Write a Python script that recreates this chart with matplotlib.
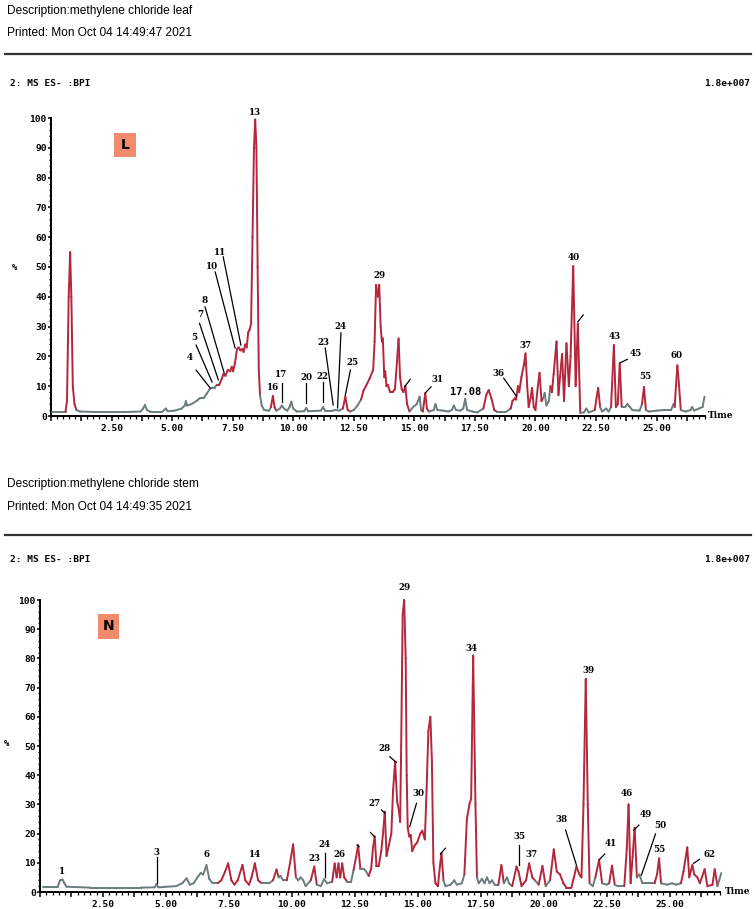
import matplotlib
matplotlib.use("Agg")
import matplotlib.pyplot as plt
import numpy as np
from matplotlib.collections import LineCollection
from matplotlib.ticker import MultipleLocator, FuncFormatter
from matplotlib.patches import Rectangle

# ---------------- data: leaf (L) chromatogram, time (min) / relative intensity (%) -------------
leaf_time = [0.03, 0.60, 0.66, 0.73, 0.79, 0.84, 0.90, 0.97, 1.05, 1.20, 2.00, 3.00, 3.70, 3.80, 3.88, 3.96,
             4.10, 4.60, 4.74, 4.82, 5.10, 5.40, 5.52, 5.57, 5.62, 5.80, 6.00, 6.15, 6.30, 6.43, 6.55, 6.65,
             6.75, 6.85, 6.95, 7.05, 7.12, 7.20, 7.30, 7.40, 7.46, 7.52, 7.60, 7.68, 7.75, 7.82, 7.90, 7.95,
             8.02, 8.08, 8.14, 8.20, 8.26, 8.32, 8.38, 8.43, 8.48, 8.53, 8.58, 8.63, 8.70, 8.80, 9.00, 9.08,
             9.16, 9.23, 9.30, 9.45, 9.53, 9.62, 9.75, 9.85, 9.92, 10.00, 10.15, 10.45, 10.54, 10.62, 11.15,
             11.23, 11.32, 11.60, 11.75, 11.90, 12.05, 12.15, 12.25, 12.35, 12.50, 12.65, 12.80, 12.90, 13.00,
             13.15, 13.30, 13.36, 13.42, 13.49, 13.55, 13.61, 13.66, 13.70, 13.76, 13.80, 13.85, 13.90, 14.00,
             14.10, 14.20, 14.30, 14.35, 14.41, 14.48, 14.55, 14.63, 14.70, 14.80, 14.95, 15.10, 15.22, 15.28,
             15.35, 15.45, 15.52, 15.60, 15.80, 15.87, 15.95, 16.20, 16.40, 16.55, 16.63, 16.72, 16.90, 17.02,
             17.10, 17.18, 17.40, 17.60, 17.85, 17.97, 18.07, 18.18, 18.30, 18.40, 18.80, 18.98, 19.05, 19.15,
             19.20, 19.28, 19.33, 19.42, 19.52, 19.59, 19.66, 19.72, 19.80, 19.86, 19.93, 20.00, 20.10, 20.17,
             20.25, 20.32, 20.38, 20.45, 20.55, 20.62, 20.68, 20.75, 20.87, 20.95, 21.10, 21.18, 21.28, 21.38,
             21.45, 21.56, 21.66, 21.75, 21.85, 22.00, 22.10, 22.20, 22.45, 22.52, 22.59, 22.67, 22.75, 22.92,
             23.02, 23.12, 23.24, 23.32, 23.40, 23.48, 23.56, 23.70, 23.80, 23.90, 24.00, 24.30, 24.40, 24.48,
             24.56, 24.70, 25.00, 25.30, 25.60, 25.70, 25.75, 25.80, 25.86, 25.93, 26.00, 26.20, 26.40, 26.47,
             26.55, 26.75, 26.90, 26.98]
leaf_intensity = [1.5, 1.5, 5, 40, 55, 40, 10, 4, 2, 1.5, 1.3, 1.3, 1.5, 2.5, 3.7, 2,
                  1.5, 1.5, 2.5, 1.6, 1.8, 2.5, 3.5, 5, 3.5, 4, 5, 6, 6, 7.5, 9, 9.5,
                  9.5, 10.5, 10.5, 12.5, 14, 13.5, 15.5, 15, 16.5, 15, 18, 22.5, 23, 22, 22.5, 21.5,
                  24, 23, 28, 29, 31, 60, 90, 99.5, 90, 50, 15, 7, 3.5, 2, 1.8, 3,
                  6.7, 3, 1.8, 2.5, 3.5, 2.5, 1.8, 3, 4.8, 2.5, 1.5, 1.6, 2.7, 1.6, 1.8,
                  3, 1.8, 1.8, 2, 1.8, 2.5, 6.5, 2, 1.5, 2, 3.5, 5.5, 8.5, 10,
                  12.5, 15.5, 25, 44, 40, 44, 30, 25, 26, 13, 15, 10, 10.5, 8,
                  8, 9, 20, 26, 13, 9, 8, 10, 4, 1.5, 3, 4, 6.5, 2,
                  1.5, 7.6, 2.5, 1.5, 2, 4, 2, 1.8, 1.5, 2, 3.5, 2, 1.8, 2.5,
                  5.7, 2, 1.5, 1.2, 2.5, 7, 8.7, 6, 2, 1.5, 1.5, 2.5, 5, 6,
                  5.5, 10, 8, 13, 17, 21, 10, 3, 6, 9.4, 3, 2, 10, 14.5,
                  5, 6, 7.7, 3.5, 5, 10, 8, 14, 25, 7, 20.8, 5, 24.4, 10,
                  20, 50.3, 10, 31, 1, 1.2, 2.5, 1.2, 2, 6, 9.4, 3, 1.5, 2.5,
                  1.5, 3, 23.8, 3, 4, 17.8, 3, 3, 4, 3, 2, 1.8, 4, 9.7,
                  2, 1.5, 1.8, 2, 2, 4, 3, 10, 17, 10, 2, 1.5, 2, 3,
                  1.8, 2.5, 3, 6.5]
leaf_red_ranges = [(0.6, 1.1), (6.9, 8.63), (9.05, 9.28), (12.05, 12.3), (12.85, 14.75), (15.35, 15.58),
                   (17.8, 18.35), (18.95, 20.3), (20.6, 21.85), (22.45, 22.7), (23.1, 23.6), (24.38, 24.58),
                   (25.76, 25.97)]
leaf_labels = ["13", "4", "5", "7", "8", "10", "11", "16", "17", "20", "22", "23", "24", "25", "29", "31",
               "36", "37", "40", "43", "45", "55", "60"]
leaf_label_t = [8.43, 5.74, 5.91, 6.16, 6.32, 6.65, 6.98, 9.16, 9.50, 10.54, 11.19, 11.23, 11.94, 12.43, 13.57,
                15.96, 18.46, 19.59, 21.58, 23.26, 24.13, 24.52, 25.83]
leaf_label_i = [102, 19.5, 26.2, 33.9, 38.9, 50.3, 55, 9.4, 13.8, 12.8, 13.1, 24.5, 29.9, 17.8, 47,
                12.4, 14.3, 23.6, 53.3, 26.6, 21, 13.2, 20.2]
leaf_leaders = [((5.99, 15.4), (6.57, 9.4)), ((5.99, 23.8), (6.65, 11.4)), ((6.13, 31.1), (6.91, 12.1)),
                ((6.36, 36.6), (7.15, 14.4)), ((6.78, 48.3), (7.60, 22.8)), ((7.11, 53.4), (7.84, 23.8)),
                ((9.55, 11.1), (9.55, 4.7)), ((10.54, 11.1), (10.54, 4.4)), ((11.23, 11.4), (11.23, 4.7)),
                ((11.32, 22.8), (11.65, 3.7)), ((11.97, 27.9), (11.83, 2.7)), ((12.36, 15.4), (12.15, 7.0)),
                ((14.60, 9.8), (14.83, 12.3)), ((15.45, 7.7), (15.69, 9.8)), ((18.69, 12.7), (19.21, 6.7)),
                ((21.75, 31.6), (21.97, 33.9)), ((23.51, 17.9), (23.79, 19.0))]
leaf_rt_note = ("17.08", 17.11, 8.0)

# ---------------- data: stem (N) chromatogram -------------
stem_time = [0.13, 0.70, 0.80, 0.89, 0.97, 1.05, 2.00, 3.00, 4.00, 4.55, 4.63, 4.70, 5.00, 5.40, 5.65, 5.82,
             5.95, 6.10, 6.25, 6.38, 6.48, 6.61, 6.72, 6.85, 7.05, 7.20, 7.35, 7.47, 7.60, 7.72, 7.85, 8.04,
             8.15, 8.30, 8.40, 8.53, 8.66, 8.80, 9.10, 9.25, 9.39, 9.48, 9.55, 9.65, 9.80, 9.93, 10.05, 10.16,
             10.25, 10.35, 10.45, 10.55, 10.75, 10.89, 10.99, 11.15, 11.28, 11.40, 11.60, 11.70, 11.78, 11.85,
             11.92, 12.00, 12.08, 12.20, 12.35, 12.45, 12.55, 12.63, 12.72, 12.85, 12.95, 13.05, 13.15, 13.22,
             13.29, 13.36, 13.45, 13.55, 13.62, 13.69, 13.76, 13.85, 13.95, 14.02, 14.10, 14.18, 14.25, 14.30,
             14.34, 14.40, 14.46, 14.52, 14.56, 14.60, 14.66, 14.72, 14.78, 14.88, 14.98, 15.10, 15.18, 15.28,
             15.35, 15.42, 15.50, 15.56, 15.62, 15.70, 15.80, 15.88, 15.94, 16.02, 16.10, 16.30, 16.45, 16.55,
             16.75, 16.85, 16.95, 17.05, 17.12, 17.20, 17.29, 17.35, 17.42, 17.55, 17.65, 17.75, 17.85, 17.95,
             18.05, 18.20, 18.32, 18.42, 18.55, 18.62, 18.75, 18.92, 19.00, 19.12, 19.30, 19.42, 19.55, 19.65,
             19.80, 19.95, 20.08, 20.25, 20.40, 20.52, 20.65, 20.78, 20.90, 21.10, 21.20, 21.30, 21.42, 21.50,
             21.58, 21.67, 21.75, 21.82, 21.95, 22.05, 22.20, 22.32, 22.50, 22.60, 22.71, 22.82, 22.95, 23.20,
             23.30, 23.37, 23.45, 23.53, 23.61, 23.70, 23.80, 23.92, 24.20, 24.40, 24.50, 24.58, 24.66, 24.90,
             25.10, 25.25, 25.45, 25.55, 25.70, 25.78, 25.90, 25.98, 26.10, 26.20, 26.39, 26.50, 26.70, 26.79,
             26.90, 27.05]
stem_intensity = [1.8, 1.8, 4, 4.3, 3, 1.8, 1.5, 1.5, 1.5, 1.6, 2.7, 1.6, 1.8, 2, 3, 4.7,
                  2.5, 3, 5, 6.5, 6, 9.2, 4.5, 3, 3, 4, 7, 9.8, 4, 2.5, 4, 9.3,
                  4, 2.5, 5, 9.8, 4, 3, 3, 4, 7.7, 5, 5.5, 4, 4, 10, 16.3, 5,
                  4, 5, 4, 2, 4, 8.7, 2.5, 2, 4.4, 3, 3.5, 9.8, 5, 9.8,
                  5, 9.8, 5, 3.5, 3.5, 7.5, 12, 16, 8, 8, 7, 5.5, 8, 15,
                  19, 9, 9, 14, 20, 27.5, 12.3, 16, 20, 35, 44.6, 31, 28, 24,
                  50, 95, 100, 80, 40, 22, 19, 19.5, 14, 16, 17, 20, 21, 18,
                  35, 55, 60, 45, 10, 3, 2, 9, 13.2, 4, 2, 2.5, 4, 2.5,
                  3, 6, 25, 30, 32, 81, 30, 5, 3, 4.5, 3, 5, 3, 4,
                  2.5, 2.5, 9.2, 3, 5, 3, 2, 8.7, 7, 2, 4, 9.8, 5, 4,
                  2.5, 8.9, 2, 4, 14.6, 7, 6, 3, 1.5, 1.5, 5, 8.7, 6, 5,
                  30, 73, 30, 3, 2, 5, 11, 3, 2.5, 3, 9, 2.5, 2, 2,
                  15, 30, 3, 12, 22, 5, 6, 3, 3, 3, 6, 11.5, 3, 2.5,
                  3, 2.5, 3, 7, 15.3, 5, 9.2, 6, 5, 3, 7.8, 2, 2.5, 7.8,
                  2, 6.5]
stem_red_ranges = [(7.1, 8.75), (9.3, 9.45), (9.85, 10.15), (10.7, 11.05), (11.6, 12.15), (12.45, 12.75),
                   (13.1, 16.05), (16.85, 17.33), (18.2, 18.45), (18.7, 19.6), (19.85, 20.05), (20.25, 21.82),
                   (22.05, 22.3), (22.6, 22.85), (23.2, 23.72), (24.45, 24.7), (25.5, 26.92)]
stem_labels = ["1", "3", "6", "14", "23", "24", "26", "27", "28", "29", "30", "34", "35", "37", "38", "39",
               "41", "46", "49", "50", "55", "62"]
stem_label_t = [0.88, 4.63, 6.62, 8.53, 10.88, 11.31, 11.90, 13.29, 13.69, 14.48, 15.01, 17.13, 19.05, 19.51,
                20.70, 21.76, 22.65, 23.30, 24.04, 24.64, 24.60, 26.59]
stem_label_i = [7, 13.6, 12.7, 12.7, 11.5, 16.1, 12.7, 30.4, 49.2, 104.3, 33.8, 83.5, 18.9, 12.7,
                24.7, 76, 16.7, 33.6, 26.6, 22.7, 14.4, 12.7]
stem_leaders = [((4.64, 12.0), (4.64, 3.1)), ((11.31, 13.3), (11.31, 5.2)), ((13.56, 28.1), (13.69, 27.0)),
                ((13.12, 20.4), (13.29, 18.9)), ((12.59, 16.1), (12.67, 15.5)), ((13.89, 46.3), (14.15, 44.4)),
                ((14.95, 30.4), (14.68, 22.4)), ((15.90, 13.0), (16.10, 15.0)), ((19.01, 16.1), (19.01, 9.2)),
                ((20.87, 21.2), (21.30, 9.2)), ((22.20, 11.0), (22.42, 13.0)), ((23.58, 21.2), (23.78, 22.9)),
                ((24.44, 19.9), (23.88, 5.8)), ((25.95, 9.8), (26.19, 11.2))]

# ---------------- figure -------------
W, H = 756, 909
RED = "#b3263b"
GRAY = "#6a7c7c"
SALMON = "#f28a6c"
MONO = ["DejaVu Sans Mono"]
SERIF = ["DejaVu Serif"]
NARROW = ["Liberation Sans Narrow", "Liberation Sans", "DejaVu Sans"]

fig = plt.figure(figsize=(W / 100, H / 100), dpi=100)
fig.patch.set_facecolor("white")


def fy(py):
    return 1 - py / H


def draw_trace(ax, t, y, red_ranges):
    pts = np.column_stack([t, y])
    segs = np.stack([pts[:-1], pts[1:]], axis=1)
    mids = (pts[:-1, 0] + pts[1:, 0]) / 2
    cols = []
    for m in mids:
        red = any(a <= m <= b for a, b in red_ranges)
        cols.append(RED if red else GRAY)
    lc = LineCollection(segs, colors=cols, linewidths=1.4, capstyle="round", joinstyle="round", zorder=3)
    lc.set_clip_on(False)
    ax.add_collection(lc)


def style_axes(ax, xpad):
    ax.set_xlim(0, 27)
    ax.set_ylim(0, 100)
    for s in ["top", "right"]:
        ax.spines[s].set_visible(False)
    for s in ["left", "bottom"]:
        ax.spines[s].set_linewidth(1.4)
    ax.xaxis.set_major_locator(MultipleLocator(1.25))
    ax.xaxis.set_minor_locator(MultipleLocator(0.25))
    ax.xaxis.set_major_formatter(FuncFormatter(
        lambda v, p: f"{v:.2f}" if v > 0.1 and abs(v / 2.5 - round(v / 2.5)) < 1e-6 else ""))
    ax.yaxis.set_major_locator(MultipleLocator(10))
    ax.yaxis.set_minor_locator(MultipleLocator(2))
    ax.yaxis.set_major_formatter(FuncFormatter(lambda v, p: f"{int(round(v))}"))
    ax.tick_params(axis="x", which="major", direction="out", length=3.5, width=1.1, pad=xpad)
    ax.tick_params(axis="x", which="minor", direction="out", length=2, width=0.9)
    ax.tick_params(axis="y", which="major", direction="out", length=2.5, width=1.1, pad=0.5)
    ax.tick_params(axis="y", which="minor", direction="out", length=1.5, width=0.9)
    for lab in ax.get_xticklabels() + ax.get_yticklabels():
        lab.set_fontfamily(MONO)
        lab.set_fontweight("bold")
        lab.set_fontsize(6.8)


def put_labels(ax, labels, lt, li, leaders):
    for s, t, i in zip(labels, lt, li):
        ax.text(t, i, s, ha="center", va="center", fontsize=6.3, fontweight="bold",
                family=SERIF, clip_on=False, zorder=5)
    for (a, b) in leaders:
        ax.plot([a[0], b[0]], [a[1], b[1]], color="black", lw=0.9, clip_on=False, zorder=4)


def header(y_desc, y_print, y_line, y_ms, desc, printed):
    fig.text(7 / W, fy(y_desc), desc, ha="left", va="center", fontsize=8.6, family=NARROW)
    fig.text(7 / W, fy(y_print), printed, ha="left", va="center", fontsize=8.6, family=NARROW)
    fig.add_artist(plt.Line2D([5 / W, 751 / W], [fy(y_line), fy(y_line)], color="#333333", lw=1.6))
    fig.text(10 / W, fy(y_ms), "2: MS ES- :BPI", ha="left", va="center", fontsize=6.8,
             fontweight="bold", family=MONO)
    fig.text(750 / W, fy(y_ms), "1.8e+007", ha="right", va="center", fontsize=6.8,
             fontweight="bold", family=MONO)


def box(x0, x1, y0, y1, letter):
    fig.add_artist(Rectangle((x0 / W, fy(y1)), (x1 - x0) / W, (y1 - y0) / H,
                             transform=fig.transFigure, facecolor=SALMON, edgecolor="none"))
    fig.text((x0 + x1) / 2 / W, fy((y0 + y1) / 2), letter, ha="center", va="center",
             fontsize=10, fontweight="bold", family=["DejaVu Sans"])


# ---- top panel (leaf)
header(11, 33, 54, 83, "Description:methylene chloride leaf", "Printed: Mon Oct 04 14:49:47 2021")
ax1 = fig.add_axes([51 / W, fy(416), 654 / W, 298 / H])
style_axes(ax1, 2.5)
draw_trace(ax1, leaf_time, leaf_intensity, leaf_red_ranges)
put_labels(ax1, leaf_labels, leaf_label_t, leaf_label_i, leaf_leaders)
ax1.text(leaf_rt_note[1], leaf_rt_note[2], leaf_rt_note[0], ha="center", va="center", fontsize=7.5,
         fontweight="bold", family=MONO, zorder=5)
fig.text(708 / W, fy(416), "Time", ha="left", va="center", fontsize=6.5, fontweight="bold", family=SERIF)
fig.text(15 / W, fy(267), "%", ha="center", va="center", fontsize=6.5, fontweight="bold", family=MONO)
box(114, 136, 133, 157, "L")

# ---- bottom panel (stem)
header(484, 507, 535, 559, "Description:methylene chloride stem", "Printed: Mon Oct 04 14:49:35 2021")
ax2 = fig.add_axes([40 / W, fy(892), 680 / W, 292 / H])
style_axes(ax2, 2)
draw_trace(ax2, stem_time, stem_intensity, stem_red_ranges)
put_labels(ax2, stem_labels, stem_label_t, stem_label_i, stem_leaders)
fig.text(725 / W, fy(891), "Time", ha="left", va="center", fontsize=6.5, fontweight="bold", family=SERIF)
fig.text(7 / W, fy(744), "%", ha="center", va="center", fontsize=6.5, fontweight="bold", family=MONO)
box(98, 119, 614, 639, "N")

fig.savefig("out.png", dpi=100, facecolor="white")
